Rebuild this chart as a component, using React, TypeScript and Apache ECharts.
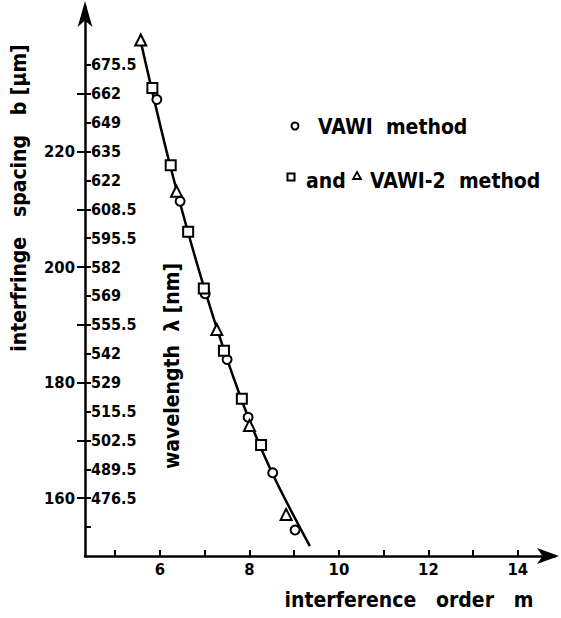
import React, { useEffect, useRef } from "react";
import * as echarts from "echarts";

// interference order m (x) vs interfringe spacing b in µm (y)
const circlesM = [5.93, 6.45, 7.01, 7.5, 7.97, 8.52, 9.02];
const circlesB = [229.0, 211.4, 195.4, 184.0, 174.0, 164.4, 154.5];
const squaresM = [5.83, 6.24, 6.63, 6.98, 7.43, 7.83, 8.26];
const squaresB = [231.0, 217.6, 206.1, 196.3, 185.5, 177.2, 169.2];
const trianglesM = [5.57, 6.37, 7.27, 8.0, 8.82];
const trianglesB = [239.3, 213.1, 189.2, 172.6, 157.2];
const fitM = [5.55, 6.22, 7.0, 7.81, 8.5, 9.35];
const fitB = [239.7, 217.8, 196.1, 177.3, 164.5, 151.7];

const xTicks = [5, 6, 7, 8, 9, 10, 11, 12, 13, 14];
const xLabels = [6, 8, 10, 12, 14];
const bTicks = [160, 170, 180, 190, 200, 210, 220, 230];
const bLabels = [160, 180, 200, 220];
const lambdaTickB = [155, 160, 165, 170, 175, 180, 185, 190, 195, 200, 205, 210, 215, 220, 225, 230, 235];
const lambdaLabelB = [160, 165, 170, 175, 180, 185, 190, 195, 200, 205, 210, 215, 220, 225, 230, 235];
const lambdaLabels = [
  "476.5", "489.5", "502.5", "515.5", "529", "542", "555.5", "569",
  "582", "595.5", "608.5", "622", "635", "649", "662", "675.5",
];

const zip = (a: number[], b: number[]) => a.map((v, i) => [v, b[i]]);

const tickFont = {
  fontFamily: "DejaVu Sans Condensed",
  fontWeight: "bold" as const,
  fontSize: 16.5,
  color: "#000",
};
const titleFont = "DejaVu Sans Condensed";

export default function App() {
  const ref = useRef<HTMLDivElement>(null);
  useEffect(() => {
    if (!ref.current) return;
    const chart = echarts.init(ref.current, null, { renderer: "svg" });
    const marker = {
      color: "#fff",
      borderColor: "#000",
      borderWidth: 2,
      opacity: 1,
    };
    const title = (text: string, fontSize: number) => ({
      text,
      fontFamily: titleFont,
      fontWeight: "bold",
      fontSize,
      fill: "#000",
    });
    chart.setOption({
      animation: false,
      backgroundColor: "#fff",
      grid: { left: 85, right: 6, top: 7, bottom: 62 },
      xAxis: {
        type: "value",
        min: 4.324,
        max: 14.83,
        splitLine: { show: false },
        axisLine: {
          lineStyle: { color: "#000", width: 2.5 },
          symbol: ["none", "arrow"],
          symbolSize: [12, 22],
          symbolOffset: [0, 4],
        },
        axisTick: {
          show: true,
          inside: true,
          length: 6,
          lineStyle: { color: "#000", width: 2 },
          customValues: xTicks,
        },
        axisLabel: {
          ...tickFont,
          margin: 5,
          customValues: xLabels,
          formatter: (v: number) => String(v),
        },
      },
      yAxis: [
        {
          type: "value",
          min: 150,
          max: 245,
          position: "left",
          splitLine: { show: false },
          axisLine: {
            lineStyle: { color: "#000", width: 2.5 },
            symbol: ["none", "arrow"],
            symbolSize: [11, 26],
            symbolOffset: [0, 6],
          },
          axisTick: {
            show: true,
            inside: false,
            length: 8,
            lineStyle: { color: "#000", width: 2 },
            customValues: bTicks,
          },
          axisLabel: {
            ...tickFont,
            margin: 10,
            customValues: bLabels,
            formatter: (v: number) => String(v),
          },
        },
        {
          type: "value",
          min: 150,
          max: 245,
          position: "left",
          splitLine: { show: false },
          axisLine: { show: false },
          axisTick: {
            show: true,
            inside: true,
            length: 6,
            lineStyle: { color: "#000", width: 2 },
            customValues: lambdaTickB,
          },
          axisLabel: {
            ...tickFont,
            fontSize: 16,
            inside: true,
            margin: 6,
            customValues: lambdaLabelB,
            formatter: (v: number) => {
              const i = lambdaLabelB.indexOf(Math.round(v));
              return i >= 0 ? lambdaLabels[i] : "";
            },
          },
        },
      ],
      series: [
        {
          type: "line",
          data: zip(fitM, fitB),
          smooth: 0.3,
          symbol: "none",
          lineStyle: { color: "#000", width: 2.5 },
          z: 1,
        },
        {
          type: "scatter",
          data: zip(circlesM, circlesB),
          symbol: "circle",
          symbolSize: 9,
          itemStyle: marker,
          z: 3,
        },
        {
          type: "scatter",
          data: zip(squaresM, squaresB),
          symbol: "rect",
          symbolSize: 10,
          itemStyle: marker,
          z: 3,
        },
        {
          type: "scatter",
          data: zip(trianglesM, trianglesB),
          symbol: "triangle",
          symbolSize: 11,
          itemStyle: marker,
          z: 3,
        },
      ],
      graphic: [
        {
          type: "text",
          x: 19,
          y: 198,
          rotation: Math.PI / 2,
          style: {
            ...title("interfringe   spacing   b [µm]", 21),
            align: "center",
            verticalAlign: "middle",
          },
        },
        {
          type: "text",
          x: 172,
          y: 366,
          rotation: Math.PI / 2,
          style: {
            ...title("wavelength  λ [nm]", 21),
            align: "center",
            verticalAlign: "middle",
          },
        },
        {
          type: "text",
          x: 409,
          y: 600,
          style: {
            ...title("interference   order   m", 21),
            align: "center",
            verticalAlign: "middle",
          },
        },
        {
          type: "circle",
          shape: { cx: 295, cy: 126, r: 3.5 },
          style: { fill: "#fff", stroke: "#000", lineWidth: 2 },
        },
        {
          type: "text",
          x: 318,
          y: 127,
          style: { ...title("VAWI  method", 21), verticalAlign: "middle" },
        },
        {
          type: "rect",
          shape: { x: 287.5, y: 173.5, width: 7, height: 7 },
          style: { fill: "#fff", stroke: "#000", lineWidth: 2 },
        },
        {
          type: "text",
          x: 306,
          y: 181,
          style: { ...title("and", 21), verticalAlign: "middle" },
        },
        {
          type: "polygon",
          shape: { points: [[357, 172], [361, 179], [353, 179]] },
          style: { fill: "#fff", stroke: "#000", lineWidth: 1.8 },
        },
        {
          type: "text",
          x: 370,
          y: 181,
          style: { ...title("VAWI-2  method", 21), verticalAlign: "middle" },
        },
      ],
    });
    return () => chart.dispose();
  }, []);
  return <div ref={ref} style={{ width: 561, height: 618, position: "absolute", left: 0, top: 0 }} />;
}
